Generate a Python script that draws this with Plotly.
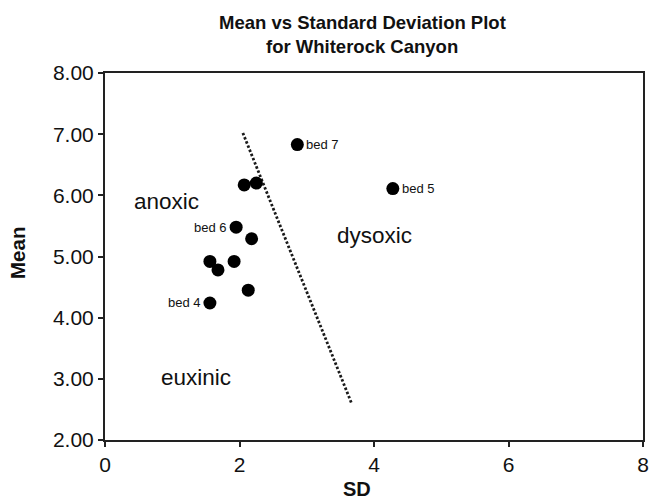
import plotly.graph_objects as go

# Sample statistics (standard deviation vs mean) for each bed
sd_values = [2.86, 4.28, 2.07, 2.25, 1.95, 2.18, 1.56, 1.68, 1.92, 2.13, 1.56]
mean_values = [6.83, 6.11, 6.17, 6.20, 5.48, 5.29, 4.92, 4.78, 4.92, 4.45, 4.24]
point_labels = ["bed 7", "bed 5", "", "", "bed 6", "", "", "", "", "", "bed 4"]
label_sides = ["right", "right", "", "", "left", "", "", "", "", "", "left"]

# Boundary separating anoxic/euxinic from dysoxic conditions
boundary_sd = [2.05, 3.67]
boundary_mean = [7.02, 2.59]

# Region names and their positions (SD, Mean)
region_names = ["anoxic", "dysoxic", "euxinic"]
region_sd = [0.92, 4.01, 1.35]
region_mean = [5.90, 5.35, 3.03]

x_ticks = [0, 2, 4, 6, 8]
y_ticks = [2, 3, 4, 5, 6, 7, 8]

FONT = "Arial, Liberation Sans, sans-serif"
INK = "#111111"
W, H = 650, 503
M_L, M_R, M_T, M_B = 105, 7, 73, 63
PLOT_W = W - M_L - M_R
PLOT_H = H - M_T - M_B


def paper_x(px):
    """Pixel column (from left of page) -> paper x coordinate."""
    return (px - M_L) / PLOT_W


def paper_y(py):
    """Pixel row (from top of page) -> paper y coordinate."""
    return (H - M_B - py) / PLOT_H


fig = go.Figure()

fig.add_trace(go.Scatter(
    x=boundary_sd, y=boundary_mean, mode="lines",
    line=dict(color="#1a1a1a", width=2.8, dash="2.5px,2px"),
    hoverinfo="skip", showlegend=False,
))

fig.add_trace(go.Scatter(
    x=sd_values, y=mean_values, mode="markers",
    marker=dict(color="black", size=13, line=dict(width=0)),
    showlegend=False,
))

annotations = []
for sx, my, lab, side in zip(sd_values, mean_values, point_labels, label_sides):
    if not lab:
        continue
    annotations.append(dict(
        x=sx, y=my, xref="x", yref="y", text=lab, showarrow=False,
        xanchor="left" if side == "right" else "right",
        xshift=7 if side == "right" else -7,
        font=dict(family=FONT, size=13, color=INK),
    ))

for name, sx, my in zip(region_names, region_sd, region_mean):
    annotations.append(dict(
        x=sx, y=my, xref="x", yref="y", text=name, showarrow=False,
        xanchor="center", yanchor="middle",
        font=dict(family=FONT, size=22.5, color=INK),
    ))

# Two-line chart heading
annotations.append(dict(
    x=paper_x(362), y=paper_y(22.5), xref="paper", yref="paper",
    text="<b>Mean vs Standard Deviation Plot</b>", showarrow=False,
    xanchor="center", yanchor="middle",
    font=dict(family=FONT, size=18.5, color=INK),
))
annotations.append(dict(
    x=paper_x(362), y=paper_y(46.5), xref="paper", yref="paper",
    text="<b>for Whiterock Canyon</b>", showarrow=False,
    xanchor="center", yanchor="middle",
    font=dict(family=FONT, size=18.5, color=INK),
))

# Axis titles
annotations.append(dict(
    x=paper_x(357), y=paper_y(489), xref="paper", yref="paper",
    text="<b>SD</b>", showarrow=False, xanchor="center", yanchor="middle",
    font=dict(family=FONT, size=20, color=INK),
))
annotations.append(dict(
    x=paper_x(17), y=paper_y(253), xref="paper", yref="paper",
    text="<b>Mean</b>", showarrow=False, xanchor="center", yanchor="middle",
    textangle=-90,
    font=dict(family=FONT, size=20.5, color=INK),
))

fig.update_layout(
    width=W, height=H,
    margin=dict(l=M_L, r=M_R, t=M_T, b=M_B, autoexpand=False),
    paper_bgcolor="white", plot_bgcolor="white",
    font=dict(family=FONT, color=INK),
    annotations=annotations,
    showlegend=False,
)

axis_style = dict(
    showgrid=False, zeroline=False, automargin=False,
    showline=True, linecolor="#222", linewidth=2, mirror=True,
    ticks="outside", ticklen=5, tickwidth=2, tickcolor="#222",
    tickfont=dict(family=FONT, size=21, color=INK),
)
fig.update_xaxes(range=[0, 8], tickvals=x_ticks,
                 ticktext=[str(v) for v in x_ticks], **axis_style)
fig.update_yaxes(range=[2, 8], tickvals=y_ticks,
                 ticktext=[f"{v:.2f}" for v in y_ticks], **axis_style)

fig.write_html("out.html")
